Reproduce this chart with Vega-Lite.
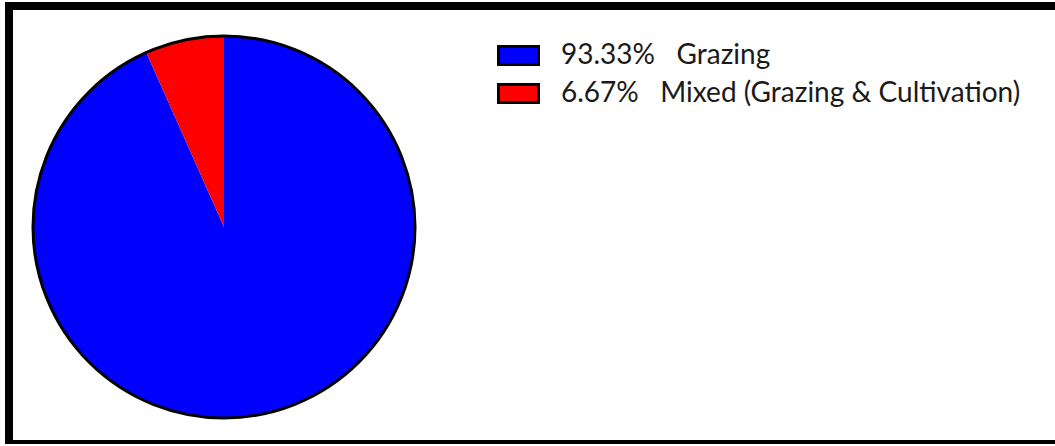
{
  "$schema": "https://vega.github.io/schema/vega-lite/v6.json",
  "width": 1060,
  "height": 438,
  "padding": {"left": 9, "top": 6, "right": 0, "bottom": 0},
  "background": "white",
  "view": {"stroke": "black", "strokeWidth": 8, "fill": "white"},
  "data": {
    "values": [
      {"label": "93.33%\u00a0\u00a0\u00a0Grazing", "percent": 93.33},
      {"label": "6.67%\u00a0\u00a0\u00a0Mixed (Grazing & Cultivation)", "percent": 6.67}
    ]
  },
  "layer": [
    {
      "mark": {"type": "arc", "x": 215, "y": 221, "radius": 191, "stroke": null},
      "encoding": {
        "theta": {"field": "percent", "type": "quantitative", "stack": true},
        "order": {"field": "percent", "type": "quantitative", "sort": "descending"},
        "color": {
          "field": "label",
          "type": "nominal",
          "scale": {
            "domain": ["93.33%\u00a0\u00a0\u00a0Grazing", "6.67%\u00a0\u00a0\u00a0Mixed (Grazing & Cultivation)"],
            "range": ["#0000FF", "#FF0000"]
          },
          "legend": {
            "title": null,
            "orient": "none",
            "legendX": 488,
            "legendY": 28,
            "symbolType": "M-1,-0.45H1V0.45H-1Z",
            "symbolSize": 1600,
            "symbolStrokeColor": "black",
            "symbolStrokeWidth": 3,
            "labelFont": "Lato",
            "labelFontSize": 28,
            "labelColor": "#1a1a1a",
            "labelOffset": 21,
            "labelLimit": 700,
            "rowPadding": 1
          }
        }
      }
    },
    {
      "data": {"values": [{}]},
      "mark": {"type": "arc", "x": 215, "y": 221, "radius": 191, "fill": null, "stroke": "black", "strokeWidth": 3},
      "encoding": {}
    }
  ]
}
